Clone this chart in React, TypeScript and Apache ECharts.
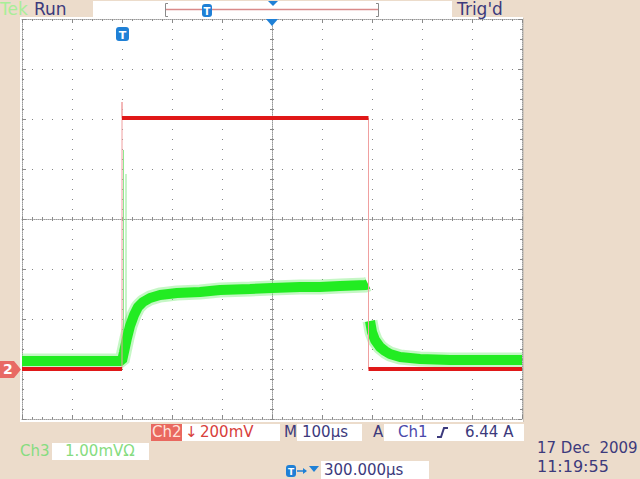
import { useEffect, useRef } from 'react';
import * as echarts from 'echarts';

// Horizontal: 100 µs/div, trigger at 0, centre at +300 µs
const timeMinUs = -200;
const timeMaxUs = 800;
const timeDivUs = 100;
// Vertical: divisions from centre
const divMin = -4;
const divMax = 4;

// Ch2 (red) trace: level times (µs) and levels (div)
const ch2Times = [-200, 0, 0, 0, 493, 493, 800];
const ch2Divs = [-3.0, -3.0, 2.34, 2.02, 2.02, -3.0, -3.0];

// Ch3 (green) trace while pulse is on
const ch3OnTimes = [-200, 0, 4, 10, 16, 24, 32, 42, 56, 76, 110, 156, 196, 256, 300, 356, 396, 436, 488, 492];
const ch3OnDivs = [-2.84, -2.84, -2.66, -2.38, -2.14, -1.92, -1.76, -1.66, -1.58, -1.52, -1.48, -1.46, -1.42, -1.40, -1.38, -1.36, -1.36, -1.34, -1.32, -1.30];
// Ch3 after the pulse switches off
const ch3OffTimes = [496, 500, 506, 516, 526, 536, 556, 596, 656, 800];
const ch3OffDivs = [-2.04, -2.26, -2.42, -2.56, -2.64, -2.70, -2.76, -2.80, -2.82, -2.82];
// thin spikes at the rising edge
const ch3SpikeTimes = [3, 8];
const ch3SpikeBase = [-2.84, -2.70];
const ch3SpikeTops = [1.38, 0.9];

// readouts
const ch2Scale = '200mV';
const ch3Scale = '1.00mVΩ';
const timeScale = '100µs';
const trigLevel = '6.44 A';
const horizPos = '300.000µs';
const dateText = '17 Dec  2009';
const timeText = '11:19:55';

const NAVY = '#3c3a7c';
const BLUE = '#1f80d6';
const TAN = '#ecdccb';
const FONT = '"DejaVu Sans", sans-serif';

function buildOption() {
  // split Ch2 into horizontal (thick) and vertical (thin) parts
  const ch2Flat: any[] = [];
  const ch2Edges: any[] = [];
  for (let i = 0; i < ch2Times.length - 1; i++) {
    const a = [ch2Times[i], ch2Divs[i]];
    const b = [ch2Times[i + 1], ch2Divs[i + 1]];
    if (ch2Times[i] === ch2Times[i + 1]) {
      ch2Edges.push(a, b, [ch2Times[i], '-']);
    } else {
      ch2Flat.push(a, b, [ch2Times[i + 1], '-']);
    }
  }
  const ch3Data: any[] = ch3OnTimes.map((t, i) => [t, ch3OnDivs[i]]);
  ch3Data.push([(ch3OnTimes[ch3OnTimes.length - 1] + ch3OffTimes[0]) / 2, '-']);
  ch3OffTimes.forEach((t, i) => ch3Data.push([t, ch3OffDivs[i]]));
  const spikeData: any[] = [];
  ch3SpikeTimes.forEach((t, i) => {
    spikeData.push([t, ch3SpikeBase[i]], [t, ch3SpikeTops[i]], [t, '-']);
  });

  const rect = { left: 22, top: 19, width: 500, height: 400 };
  const border = { color: '#9a9a9a', width: 1, type: [1, 1] as any };
  const dots = { color: '#808080', width: 1, type: [1, 9] as any };
  const tick = { color: '#8a8a8a', width: 1 };
  const noLabel = { show: false };

  const borderAxis = (extra: any) => ({
    type: 'value',
    axisLabel: noLabel,
    axisLine: { show: true, onZero: false, lineStyle: border },
    axisTick: { show: true, inside: true, length: 4, lineStyle: tick },
    minorTick: { show: true, splitNumber: 5, length: 2, lineStyle: tick },
    splitLine: { show: false },
    ...extra,
  });
  const centreAxis = (extra: any, inside: boolean, lineShown: boolean) => ({
    type: 'value',
    axisLabel: noLabel,
    axisLine: {
      show: true,
      onZero: true,
      lineStyle: lineShown ? { color: '#9a9a9a', width: 1, type: [1, 1] } : { color: 'rgba(0,0,0,0)' },
    },
    axisTick: { show: true, inside, length: 2, lineStyle: tick },
    minorTick: { show: true, splitNumber: 5, length: 2, lineStyle: tick },
    splitLine: { show: false },
    ...extra,
  });

  const txt = (text: string, x: number, y: number, fill: string, size = 15, weight = 'normal', z = 120) => ({
    type: 'text',
    x,
    y,
    z,
    silent: true,
    style: { text, fill, font: `${weight} ${size}px ${FONT}` },
  });
  const box = (x: number, y: number, w: number, h: number, fill = '#ffffff') => ({
    type: 'rect',
    z: 110,
    silent: true,
    shape: { x, y, width: w, height: h },
    style: { fill },
  });
  const tMarker = (x: number, y: number, w: number, h: number) => [
    { type: 'rect', z: 130, silent: true, shape: { x, y, width: w, height: h, r: 3 }, style: { fill: BLUE } },
    {
      type: 'text', z: 131, silent: true, x: x + w / 2, y: y + h / 2 + 1,
      style: { text: 'T', fill: '#ffffff', font: `bold ${h - 3}px ${FONT}`, textAlign: 'center', textVerticalAlign: 'middle' },
    },
  ];

  const graphics: any[] = [
    // plot white background
    { type: 'rect', z: -1, silent: true, shape: { x: 20, y: 17, width: 503, height: 405 }, style: { fill: '#ffffff' } },
    { type: 'line', z: -1, silent: true, shape: { x1: 523.5, y1: 18, x2: 523.5, y2: 422 }, style: { stroke: '#cfc6bb', lineWidth: 1 } },
    // header
    txt('Tek', 0, 0, '#a8ee98', 17),
    txt('Run', 34, 0, NAVY, 17),
    box(93, 1, 359, 16),
    { type: 'line', z: 115, silent: true, shape: { x1: 165, y1: 9.5, x2: 379, y2: 9.5 }, style: { stroke: '#d98a8a', lineWidth: 1.5 } },
    { type: 'polyline', z: 115, silent: true, shape: { points: [[168, 3.5], [165.5, 3.5], [165.5, 16.5], [168, 16.5]] }, style: { stroke: '#8a8a8a', lineWidth: 1, fill: 'none' } },
    { type: 'polyline', z: 115, silent: true, shape: { points: [[376, 3.5], [378.5, 3.5], [378.5, 16.5], [376, 16.5]] }, style: { stroke: '#8a8a8a', lineWidth: 1, fill: 'none' } },
    ...tMarker(202, 4, 10, 13),
    { type: 'polygon', z: 130, silent: true, shape: { points: [[268, 1], [278, 1], [273, 6]] }, style: { fill: BLUE } },
    txt("Trig'd", 457, 0, NAVY, 17),
    // plot markers
    { type: 'polygon', z: 130, silent: true, shape: { points: [[266, 19], [278, 19], [272, 26]] }, style: { fill: BLUE } },
    ...tMarker(116, 27, 13, 14),
    { type: 'polygon', z: 130, silent: true, shape: { points: [[0, 361], [14, 361], [21, 369.5], [14, 378], [0, 378]] }, style: { fill: '#e86a64' } },
    txt('2', 3, 362, '#ffffff', 14, 'bold', 140),
    // bottom readouts row 1
    box(151, 424, 31, 17, '#e9685f'),
    txt('Ch2', 152, 424, '#ffe2da', 15),
    box(182, 424, 98, 17),
    txt('↓', 185, 424, '#d8403a', 15),
    txt(ch2Scale, 200, 424, '#d8403a', 15),
    txt('M', 284, 424, NAVY, 15),
    box(297, 424, 65, 17),
    txt(timeScale, 302, 424, NAVY, 15),
    txt('A', 373, 424, NAVY, 15),
    box(384, 424, 140, 17),
    txt('Ch1', 398, 424, '#4a48aa', 15),
    { type: 'polyline', z: 125, silent: true, shape: { points: [[437, 437], [441, 437], [444, 428], [448, 428]] }, style: { stroke: NAVY, lineWidth: 2, fill: 'none' } },
    txt(trigLevel, 465, 424, NAVY, 15),
    // row 2
    txt('Ch3', 20, 443, '#86dc80', 15),
    box(52, 443, 97, 17),
    txt(ch3Scale, 65, 443, '#86dc80', 15),
    txt(dateText, 537, 440, NAVY, 15),
    // row 3
    ...tMarker(286, 465, 10, 12),
    { type: 'line', z: 125, silent: true, shape: { x1: 297, y1: 471, x2: 306, y2: 471 }, style: { stroke: BLUE, lineWidth: 1.5 } },
    { type: 'polygon', z: 125, silent: true, shape: { points: [[303, 468], [307, 471], [303, 474]] }, style: { fill: BLUE } },
    { type: 'polygon', z: 125, silent: true, shape: { points: [[309, 466], [319, 466], [314, 472]] }, style: { fill: BLUE } },
    box(321, 461, 108, 18),
    txt(horizPos, 324, 462, NAVY, 15),
    txt(timeText, 537, 458, NAVY, 16),
  ];

  return {
    animation: false,
    backgroundColor: TAN,
    grid: [
      { ...rect, show: false },
      { ...rect, show: false },
      { ...rect, show: false },
    ],
    xAxis: [
      borderAxis({ gridIndex: 0, position: 'bottom', min: timeMinUs, max: timeMaxUs, interval: timeDivUs, splitLine: { show: true, lineStyle: dots } }),
      borderAxis({ gridIndex: 0, position: 'top', min: -5, max: 5, interval: 1 }),
      centreAxis({ gridIndex: 1, min: -5, max: 5, interval: 1 }, false, true),
      centreAxis({ gridIndex: 2, min: -5, max: 5, interval: 1 }, true, false),
    ],
    yAxis: [
      borderAxis({ gridIndex: 0, position: 'left', min: divMin, max: divMax, interval: 1, splitLine: { show: true, lineStyle: dots } }),
      borderAxis({ gridIndex: 0, position: 'right', min: divMin, max: divMax, interval: 1 }),
      centreAxis({ gridIndex: 1, min: divMin, max: divMax, interval: 1 }, false, true),
      centreAxis({ gridIndex: 2, min: divMin, max: divMax, interval: 1 }, true, false),
    ],
    series: [
      {
        type: 'line', xAxisIndex: 0, yAxisIndex: 0, data: spikeData, symbol: 'none', silent: true, z: 3,
        lineStyle: { color: '#8fe88f', width: 1 }, connectNulls: false,
      },
      {
        type: 'line', xAxisIndex: 0, yAxisIndex: 0, data: ch3Data, symbol: 'none', silent: true, z: 4,
        lineStyle: { color: 'rgba(110,236,110,0.4)', width: 15 }, connectNulls: false,
      },
      {
        type: 'line', xAxisIndex: 0, yAxisIndex: 0, data: ch3Data, symbol: 'none', silent: true, z: 5,
        lineStyle: { color: '#22ec22', width: 10 }, connectNulls: false,
      },
      {
        type: 'line', xAxisIndex: 0, yAxisIndex: 0, data: ch2Edges, symbol: 'none', silent: true, z: 6,
        lineStyle: { color: '#f0a0a0', width: 1 }, connectNulls: false,
      },
      {
        type: 'line', xAxisIndex: 0, yAxisIndex: 0, data: ch2Flat, symbol: 'none', silent: true, z: 7,
        lineStyle: { color: '#e01818', width: 4 }, connectNulls: false,
      },
    ],
    graphic: { elements: graphics },
  };
}

export default function App() {
  const ref = useRef<HTMLDivElement>(null);
  useEffect(() => {
    const chart = echarts.init(ref.current!, null, { renderer: 'svg', width: 640, height: 479 });
    chart.setOption(buildOption() as any);
    return () => chart.dispose();
  }, []);
  return <div ref={ref} style={{ position: 'absolute', left: 0, top: 0, width: 640, height: 479 }} />;
}
